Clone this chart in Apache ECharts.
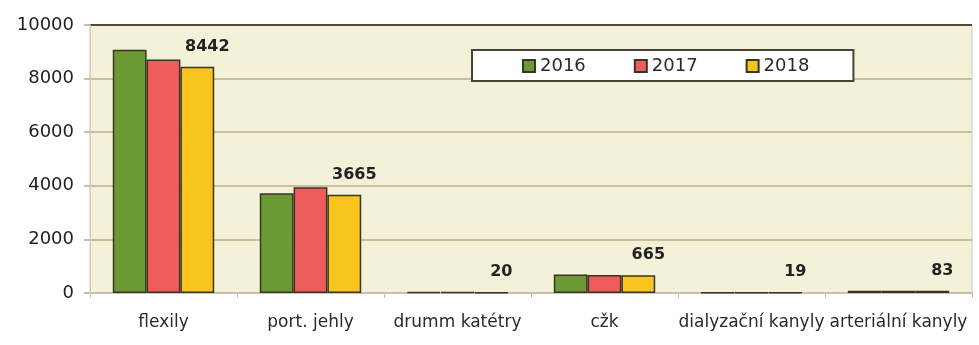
<!DOCTYPE html>
<html>
<head>
<meta charset="utf-8">
<script src="https://cdn.jsdelivr.net/npm/echarts@6/dist/echarts.min.js"></script>
<style>
  html, body { margin: 0; padding: 0; background: #ffffff; }
  #chart { width: 979px; height: 345px; }
</style>
</head>
<body>
<div id="chart"></div>
<script>
// Pomůcky podle druhu, roky 2016–2018
const categories = ['flexily', 'port. jehly', 'drumm katétry', 'cžk', 'dialyzační kanyly', 'arteriální kanyly'];
const years = ['2016', '2017', '2018'];
const values2016 = [9080, 3720, 40, 690, 20, 80];
const values2017 = [8710, 3950, 30, 675, 20, 85];
const values2018 = [8442, 3665, 20, 665, 19, 83];
const yTicks = [0, 2000, 4000, 6000, 8000, 10000];

const colors = ['#6b9a35', '#ee5c5c', '#f8c41e'];
const font = 'DejaVu Sans';

const chart = echarts.init(document.getElementById('chart'), null, { renderer: 'canvas' });

function barSeries(name, data, color, withLabel) {
  return {
    name: name,
    type: 'bar',
    data: data,
    barGap: '0%',
    barCategoryGap: '31%',
    itemStyle: { color: color, borderColor: '#3b3324', borderWidth: 1.5 },
    label: withLabel ? {
      show: true,
      position: 'top',
      distance: 12,
      offset: [10, 0],
      fontFamily: font,
      fontWeight: 'bold',
      fontSize: 16,
      color: '#222'
    } : { show: false }
  };
}

chart.setOption({
  animation: false,
  backgroundColor: '#ffffff',
  textStyle: { fontFamily: font },
  grid: {
    left: 90, right: 7, top: 25, bottom: 52,
    show: true,
    backgroundColor: '#f3f1d8',
    borderColor: '#cfcbbd',
    borderWidth: 1
  },
  legend: {
    data: years,
    left: 472,
    top: 50,
    orient: 'horizontal',
    backgroundColor: '#ffffff',
    borderColor: '#4a4438',
    borderWidth: 2,
    borderRadius: 0,
    padding: [7, 44, 6, 50],
    itemGap: 48,
    itemWidth: 12,
    itemHeight: 12,
    icon: 'rect',
    textStyle: { fontFamily: font, fontSize: 18, color: '#2a2a2a' }
  },
  xAxis: {
    type: 'category',
    data: categories,
    axisLine: { show: true, lineStyle: { color: '#c8c4b8', width: 1 } },
    axisTick: { show: true, length: 5, lineStyle: { color: '#c8c4b8' } },
    axisLabel: {
      interval: 0,
      margin: 21,
      fontFamily: font,
      fontSize: 17,
      color: '#2a2a2a'
    }
  },
  yAxis: {
    type: 'value',
    min: yTicks[0],
    max: yTicks[yTicks.length - 1],
    interval: yTicks[1] - yTicks[0],
    axisLine: { show: true, lineStyle: { color: '#cfcbbd' } },
    axisTick: { show: true, length: 6, lineStyle: { color: '#c9bf9f', width: 2 } },
    splitLine: {
      show: true,
      lineStyle: {
        color: ['#c9bf9f', '#c9bf9f', '#c9bf9f', '#c9bf9f', '#c9bf9f', '#514a3c'],
        width: 2
      }
    },
    axisLabel: {
      margin: 16,
      fontFamily: font,
      fontSize: 18,
      color: '#222',
      formatter: function (v) { return String(v); }
    }
  },
  series: [
    barSeries(years[0], values2016, colors[0], false),
    barSeries(years[1], values2017, colors[1], false),
    barSeries(years[2], values2018, colors[2], true)
  ]
});
</script>
</body>
</html>
